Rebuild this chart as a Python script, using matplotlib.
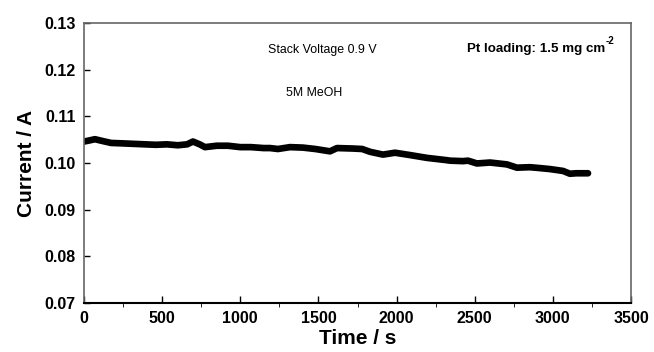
import numpy as np
import matplotlib.pyplot as plt
from matplotlib.ticker import MultipleLocator

plt.rcParams['font.family'] = ['Liberation Sans', 'DejaVu Sans']

# values
time_s = [0, 30, 70, 120, 173, 250, 320, 390, 460, 530, 600, 660, 697, 740, 774,
          850, 921, 1000, 1068, 1150, 1190, 1241, 1318, 1401, 1480, 1574, 1619,
          1721, 1780, 1830, 1913, 1990, 2086, 2194, 2322, 2342, 2425, 2457, 2514,
          2598, 2706, 2770, 2853, 2920, 2981, 3065, 3109, 3150, 3193, 3225]
current_a = [0.1046, 0.1048, 0.1051, 0.1047, 0.1043, 0.1042, 0.1041, 0.1040, 0.1039, 0.1040, 0.1038, 0.1040, 0.1046, 0.1040, 0.1034,
             0.1037, 0.1037, 0.1034, 0.1034, 0.1032, 0.1032, 0.1030, 0.1034, 0.1033, 0.1030, 0.1025, 0.1032,
             0.1031, 0.1030, 0.1024, 0.1018, 0.1022, 0.1017, 0.1011, 0.1006, 0.1005, 0.1004, 0.1005, 0.0999,
             0.1001, 0.0997, 0.0990, 0.0991, 0.0989, 0.0987, 0.0983, 0.0977, 0.0978, 0.0978, 0.0978]

fig = plt.figure(figsize=(6.54, 3.52), dpi=100)
ax = fig.add_axes([84/654, 1 - 303/352, (631-84)/654, (303-23)/352])

ax.plot(time_s, current_a, color='black', lw=4.8, solid_capstyle='round', solid_joinstyle='round')

ax.set_xlim(0, 3500)
ax.set_ylim(0.07, 0.13)
ax.xaxis.set_major_locator(MultipleLocator(500))
ax.xaxis.set_minor_locator(MultipleLocator(250))
ax.yaxis.set_major_locator(MultipleLocator(0.01))
ax.yaxis.set_major_formatter(plt.FuncFormatter(lambda v, p: f"{v:.2f}"))
ax.tick_params(axis='both', direction='in', labelsize=11.5, width=1, colors='black')
ax.tick_params(axis='x', which='major', length=5, pad=6)
ax.tick_params(axis='x', which='minor', length=3)
ax.tick_params(axis='y', length=4, pad=6)
for lab in ax.get_xticklabels() + ax.get_yticklabels():
    lab.set_fontweight('bold')

for s in ['left', 'right', 'top']:
    ax.spines[s].set_color('#666666')
    ax.spines[s].set_linewidth(1.2)
ax.spines['bottom'].set_color('black')
ax.spines['bottom'].set_linewidth(1.5)

ax.set_xlabel('Time / s', fontsize=15, fontweight='bold', labelpad=2)
ax.set_ylabel('Current / A', fontsize=15, fontweight='bold', labelpad=6)

ax.text(1177, 0.1243, 'Stack Voltage 0.9 V', fontsize=8.9, va='center', ha='left')
ax.text(1292, 0.1151, '5M MeOH', fontsize=8.9, va='center', ha='left')
pt = ax.text(2450, 0.1245, 'Pt loading: 1.5 mg cm', fontsize=9.6, fontweight='bold', va='center', ha='left')
ax.annotate('-2', xy=(1, 0.75), xycoords=pt, xytext=(0.5, 0), textcoords='offset points',
            fontsize=7, fontweight='bold', va='bottom', ha='left')

fig.savefig('out.png', dpi=100)
